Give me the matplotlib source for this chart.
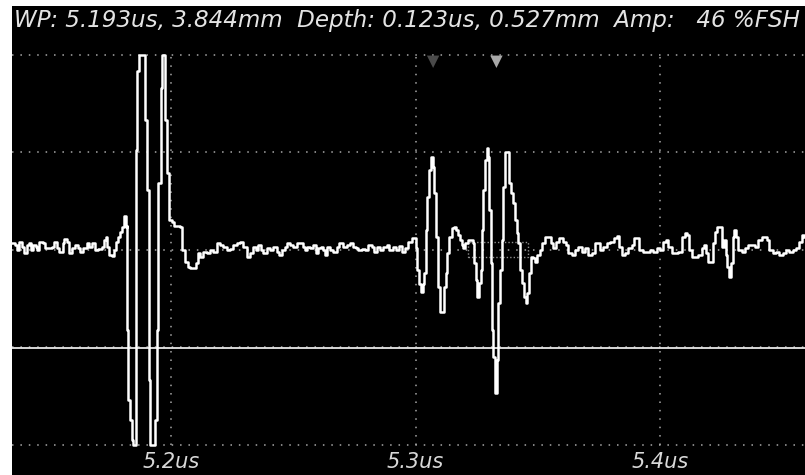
import numpy as np
import matplotlib.pyplot as plt
from matplotlib.patches import Rectangle

# A-scan trace: time (us) and amplitude (%FSH)
t_us = [
    5.1350, 5.1362, 5.1370, 5.1378, 5.1391, 5.1399, 5.1411, 5.1419, 5.1427, 5.1436,
    5.1448, 5.1452, 5.1460, 5.1476, 5.1485, 5.1497, 5.1513, 5.1521, 5.1534, 5.1542,
    5.1558, 5.1562, 5.1575, 5.1583, 5.1595, 5.1607, 5.1620, 5.1628, 5.1640, 5.1656,
    5.1665, 5.1677, 5.1689, 5.1701, 5.1718, 5.1726, 5.1734, 5.1738, 5.1746, 5.1759,
    5.1767, 5.1775, 5.1783, 5.1791, 5.1800, 5.1808, 5.1816,
    # first echo
    5.1818, 5.1821, 5.1826, 5.1832, 5.1839, 5.1845, 5.1851, 5.1855, 5.1861, 5.1869,
    5.1886, 5.1894, 5.1902, 5.1910, 5.1916, 5.1930, 5.1935, 5.1942, 5.1948, 5.1958,
    5.1965, 5.1971, 5.1975, 5.1984, 5.1990, 5.2004, 5.2012, 5.2037, 5.2044, 5.2057,
    5.2070, 5.2078, 5.2098, 5.2102, 5.2112, 5.2119, 5.2131, 5.2146, 5.2160, 5.2173,
    5.2187, 5.2200, 5.2213, 5.2228, 5.2241, 5.2254, 5.2269, 5.2282, 5.2293, 5.2303,
    5.2312, 5.2323, 5.2337, 5.2348, 5.2357, 5.2367, 5.2378, 5.2391, 5.2405, 5.2418,
    5.2432, 5.2443, 5.2453, 5.2466, 5.2476, 5.2487, 5.2500, 5.2514, 5.2528, 5.2539,
    5.2548, 5.2557, 5.2568, 5.2582, 5.2593, 5.2602, 5.2612, 5.2623, 5.2630, 5.2639,
    5.2650, 5.2664, 5.2678, 5.2688, 5.2698, 5.2705, 5.2719, 5.2732, 5.2743, 5.2757,
    5.2766, 5.2780, 5.2793, 5.2807, 5.2821, 5.2830, 5.2841, 5.2855, 5.2868, 5.2882,
    5.2893, 5.2907, 5.2920, 5.2934, 5.2944, 5.2957, 5.2971, 5.2984, 5.2998,
    # back wall group
    5.3002, 5.3007, 5.3016, 5.3021, 5.3030, 5.3035, 5.3043, 5.3049, 5.3057, 5.3064,
    5.3070, 5.3076, 5.3084, 5.3093, 5.3100, 5.3111, 5.3118, 5.3125, 5.3130, 5.3138,
    5.3148, 5.3157, 5.3166, 5.3175, 5.3182, 5.3189, 5.3196, 5.3202, 5.3216, 5.3226,
    5.3234, 5.3239, 5.3247, 5.3253, 5.3261, 5.3267, 5.3272, 5.3277, 5.3284, 5.3291,
    5.3298, 5.3302, 5.3308, 5.3313, 5.3318, 5.3325, 5.3332, 5.3339, 5.3346, 5.3353,
    5.3359, 5.3366, 5.3376, 5.3381, 5.3389, 5.3398, 5.3406, 5.3414, 5.3420, 5.3427,
    5.3434, 5.3444, 5.3452, 5.3457, 5.3465, 5.3471, 5.3479, 5.3489, 5.3496, 5.3509,
    5.3516, 5.3530, 5.3543, 5.3553, 5.3564, 5.3575, 5.3588, 5.3602, 5.3616, 5.3625,
    5.3639, 5.3652, 5.3666, 5.3680, 5.3693, 5.3707, 5.3721, 5.3734, 5.3744, 5.3755,
    5.3768, 5.3782, 5.3796, 5.3810, 5.3823, 5.3834, 5.3844, 5.3857, 5.3871, 5.3884,
    5.3895, 5.3907, 5.3915, 5.3932, 5.3946, 5.3959, 5.3973, 5.3987, 5.4000, 5.4013,
    5.4025, 5.4034, 5.4048, 5.4061, 5.4075, 5.4089, 5.4102, 5.4112, 5.4120, 5.4130,
    5.4143, 5.4157, 5.4171, 5.4180, 5.4188, 5.4198, 5.4207, 5.4215, 5.4225, 5.4234,
    5.4242, 5.4252, 5.4261, 5.4270, 5.4275, 5.4283, 5.4289, 5.4297, 5.4302, 5.4310,
    5.4320, 5.4334, 5.4347, 5.4361, 5.4375, 5.4389, 5.4402, 5.4416, 5.4430, 5.4437,
    5.4447, 5.4461, 5.4474, 5.4488, 5.4502, 5.4515, 5.4529, 5.4543, 5.4557, 5.4570,
    5.4580, 5.4589,
]
amp_pct = [
    3.4, 2.6, 0.0, 4.3, 1.7, -1.7, 2.6, 3.7, 0.0, 2.6,
    1.7, 0.0, 4.3, 3.4, 0.8, 0.8, 1.7, 4.3, 0.8, -0.9,
    3.4, 5.5, 4.3, -1.7, 0.8, 2.6, 0.8, -0.9, 0.8, 3.7,
    1.7, 3.4, 0.0, 0.3, 1.7, 5.1, 6.9, 1.7, -2.6, -3.1,
    0.0, 4.3, 6.9, 9.4, 12.0, 17.2, 12.0,
    12.4, -41.0, -77.0, -87.0, -97.5, -100.0, -100.0, 51.3, 92.0, 100.0,
    100.0, 66.6, 30.8, -66.7, -100.0, -100.0, -87.2, -41.0, 34.4, 83.1,
    100.0, 100.0, 66.6, 39.5, 15.4, 14.4, 12.3, 11.8, 0.0, -6.2,
    -8.7, -9.3, -9.3, -6.7, -1.6, -3.6, -1.1, -1.6, 0.0, -0.9,
    3.6, 2.6, 1.5, 0.0, 0.3, 2.6, 3.6, 4.3, 1.7, 1.7,
    -3.5, -1.6, 1.7, 0.0, 2.6, 0.0, -1.6, 0.8, 0.0, 1.7,
    -0.9, -2.6, 0.0, 1.7, 3.7, 2.6, 1.7, 3.4, 3.4, 1.7,
    0.0, 1.7, 0.8, 2.6, -1.7, 0.8, 1.7, 0.0, -2.6, 1.7,
    0.0, -0.9, 1.7, 3.4, 3.7, 1.7, 2.6, 3.4, 1.7, 0.8,
    0.0, 0.3, 0.0, 2.6, 1.7, -0.9, 1.7, 0.0, 1.7, 2.6,
    0.0, 1.7, 0.0, 2.0, -0.9, 0.8, 4.3, 6.0, 6.0,
    0.8, -10.4, -17.3, -21.4, -17.3, -12.0, 10.2, 27.3, 41.0, 47.8,
    42.7, 29.0, 6.8, -18.9, -31.7, -31.7, -18.9, -12.0, -1.7, 6.8,
    11.1, 11.9, 10.2, 7.6, 5.1, 2.6, 0.8, 3.4, 5.1, 5.1,
    3.4, -6.8, -15.4, -23.9, -17.1, -10.3, 10.2, 30.8, 46.2, 52.1,
    47.8, 20.5, -6.8, -41.0, -54.7, -73.5, -56.4, -27.4, -10.3, 5.1,
    32.5, 50.4, 50.4, 34.2, 29.0, 23.9, 15.4, 8.5, 3.4, -10.3,
    -17.1, -23.9, -27.4, -22.2, -12.0, -3.4, -4.3, -6.0, -2.6, 0.0,
    3.4, 6.8, 6.8, 3.4, 0.8, 4.3, 6.0, 4.3, 2.6, -1.7,
    -2.6, 0.0, 1.7, -0.9, 0.8, -2.6, -1.7, 3.4, 3.4, 0.0,
    1.7, 3.4, 4.3, 6.0, 7.2, 1.7, -2.6, -1.7, 0.8, 2.6,
    6.0, 6.0, 0.0, -0.9, -0.9, 0.0, -0.9, 0.8, 0.0, 4.3,
    5.1, 1.7, -1.7, -1.7, -0.9, 6.8, 8.5, 7.6, 0.0, -3.4,
    -3.4, -2.6, 0.8, 2.6, -1.7, -6.0, -6.0, 3.4, 9.4, 11.9,
    11.9, 1.7, 5.1, -2.6, -8.5, -13.7, -6.8, 6.8, 10.2, 6.8,
    0.0, -0.9, 0.8, 2.6, 2.6, 1.7, 5.1, 6.8, 6.8, 5.1,
    0.0, -1.7, -0.9, -2.6, -1.7, 0.0, -0.9, 0.0, 0.8, 4.3,
    7.6, 6.8,
]

x_ticks = [5.2, 5.3, 5.4]
x_tick_labels = ['5.2us', '5.3us', '5.4us']
y_grid = [100, 50, 0, -50, -100]
gate_level = -50.5
gate_box_t = [5.3215, 5.3460]
gate_box_amp = [-3.6, 4.1]
marker_t = [5.3072, 5.3331]
marker_colors = ['#4a4a4a', '#a8a8a8']
header = 'WP: 5.193us, 3.844mm  Depth: 0.123us, 0.527mm  Amp:   46 %FSH'

fig = plt.figure(figsize=(8.05, 4.75), dpi=100, facecolor='white')
ax = fig.add_axes([12 / 805, 0, 793 / 805, 469 / 475])
ax.set_facecolor('black')
ax.set_xlim(5.13497, 5.45930)
ax.set_ylim(-115.4, 125.1)
for s in ax.spines.values():
    s.set_visible(False)
ax.set_xticks([])
ax.set_yticks([])

dots = (0, (1, 4.5))
for yv in y_grid:
    ax.axhline(yv, color='#a8a8a8', lw=1.1, ls=dots, zorder=1)
ax.vlines(x_ticks, -100, 100, color='#a8a8a8', lw=1.1, ls=dots, zorder=1)

# gate
ax.axhline(gate_level, color='#e8e8e8', lw=1.3, zorder=2)
ax.add_patch(Rectangle((gate_box_t[0], gate_box_amp[0]),
                       gate_box_t[1] - gate_box_t[0],
                       gate_box_amp[1] - gate_box_amp[0],
                       fill=False, ec='#909090', lw=1.0, ls=(0, (1, 1.5)), zorder=2))

ax.plot(t_us, amp_pct, color='white', lw=1.8, drawstyle='steps-post', zorder=3)

ax.scatter(marker_t, [96.5, 96.5], marker='v', s=80, c=marker_colors, lw=0, zorder=4)

for xt, lab in zip(x_ticks, x_tick_labels):
    ax.text(xt, 0.028, lab, transform=ax.get_xaxis_transform(), ha='center', va='center',
            color='#d8d8d8', fontsize=15, style='italic')

ax.text(0.003, 0.970, header, transform=ax.transAxes, ha='left', va='center',
        color='#e4e4e4', fontsize=16.6, style='italic')

fig.savefig('out.png', dpi=100, facecolor='white')
